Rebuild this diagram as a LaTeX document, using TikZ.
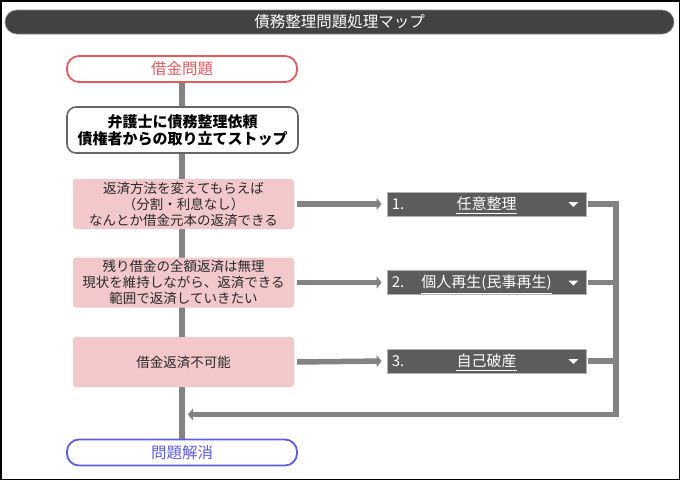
\documentclass[tikz,border=0pt]{standalone}
\usepackage{fontspec}
\setmainfont{Noto Sans CJK JP}
\usetikzlibrary{arrows.meta,backgrounds}
\definecolor{titlebg}{HTML}{424242}
\definecolor{redc}{HTML}{E05A5E}
\definecolor{bluec}{HTML}{5C5CE8}
\definecolor{pinkc}{HTML}{F2C8CA}
\definecolor{darkc}{HTML}{5C5C5C}
\definecolor{linec}{HTML}{838383}
\definecolor{txtc}{HTML}{2A2A2A}
\tikzset{
  pill/.style={draw, line width=1.8pt, rounded corners=12pt, fill=white,
    minimum width=230pt, minimum height=26pt, inner sep=0pt,
    font=\fontsize{15.5}{17}\selectfont},
  lawbox/.style={draw=black!60, line width=1.6pt, rounded corners=9pt, fill=white,
    minimum width=231pt, minimum height=46pt, inner sep=0pt, align=center,
    text=black, font=\bfseries\fontsize{15}{17}\selectfont},
  casebox/.style={fill=pinkc, rounded corners=3pt, minimum width=221pt,
    minimum height=50pt, inner sep=0pt, align=center, text=txtc,
    font=\fontsize{13.5}{16}\selectfont},
  resbox/.style={fill=darkc, draw=black!30, line width=0.8pt,
    minimum width=199pt, minimum height=24pt, inner sep=0pt},
  restext/.style={text=white, inner sep=0pt, font=\fontsize{15}{17}\selectfont},
  conn/.style={draw=linec, line width=5.5pt},
  arr/.style={conn, -{Triangle[length=5pt,width=12pt]}},
}
\begin{document}
\begin{tikzpicture}[x=1pt,y=-1pt]
\useasboundingbox (0,0) rectangle (680,480);
\draw[line width=1.5pt] (0.75,0.75) rectangle (679.25,479.25);
% title bar
\node[fill=titlebg, draw=black!45, line width=0.6pt, rounded corners=12pt,
  minimum width=669pt, minimum height=24pt, inner sep=0pt, text=white,
  font=\fontsize{15.5}{17}\selectfont] (title) at (339.5,22) {債務整理問題処理マップ};
% nodes
\node[pill, draw=redc, text=redc] (start) at (182,69) {借金問題};
\node[lawbox] (law) at (182.5,130) {弁護士に債務整理依頼\\債権者からの取り立てストップ};
\node[casebox] (c1) at (183.5,204) {返済方法を変えてもらえば\\（分割・利息なし）\\なんとか借金元本の返済できる};
\node[casebox] (c2) at (183.5,282.5) {残り借金の全額返済は無理\\現状を維持しながら、返済できる\\範囲で返済していきたい};
\node[casebox] (c3) at (183.5,362) {借金返済不可能};
\node[pill, draw=bluec, text=bluec] (goal) at (182,452.5) {問題解消};
% result boxes
\node[resbox] (d1) at (486.5,204) {};
\node[resbox] (d2) at (486.5,282.5) {};
\node[resbox] (d3) at (486.5,361) {};
\foreach \b/\n/\t in {d1/1./任意整理, d2/2./個人再生(民事再生), d3/3./自己破産}{
  \node[restext, anchor=west] (\b num) at ([xshift=5pt]\b.west) {\n};
  \node[restext] (\b ttl) at (\b.center) {\t};
  \draw[white, line width=0.9pt] ([yshift=-2.5pt]\b ttl.south west) -- ([yshift=-2.5pt]\b ttl.south east);
  \fill[white] ([xshift=-18pt,yshift=2pt]\b.east) -- ++(10pt,0) -- ++(-5pt,-5pt) -- cycle;
}
% connectors
\coordinate (r1) at (616,204);
\coordinate (r2) at (616,282.5);
\coordinate (r3) at (616,361);
\coordinate (rb) at (616,414.5);
\coordinate (ret) at (182,414.5);
\begin{scope}[on background layer]
\draw[conn] (start.south) -- (goal.north);
\end{scope}
\draw[arr, shorten <=3pt, shorten >=5pt] (c1.east) -- (d1.west);
\draw[arr, shorten <=3pt, shorten >=5pt] (c2.east) -- (d2.west);
\draw[arr, shorten <=3pt, shorten >=5pt] (c3.east) -- (d3.west);
\draw[conn, shorten <=2pt] (d2.east) -- (r2);
\draw[conn, shorten <=2pt] (d3.east) -- (r3);
\draw[arr, shorten <=2pt, shorten >=6pt, line join=miter] (d1.east) -- (r1) -- (rb) -- (ret);
\end{tikzpicture}
\end{document}
